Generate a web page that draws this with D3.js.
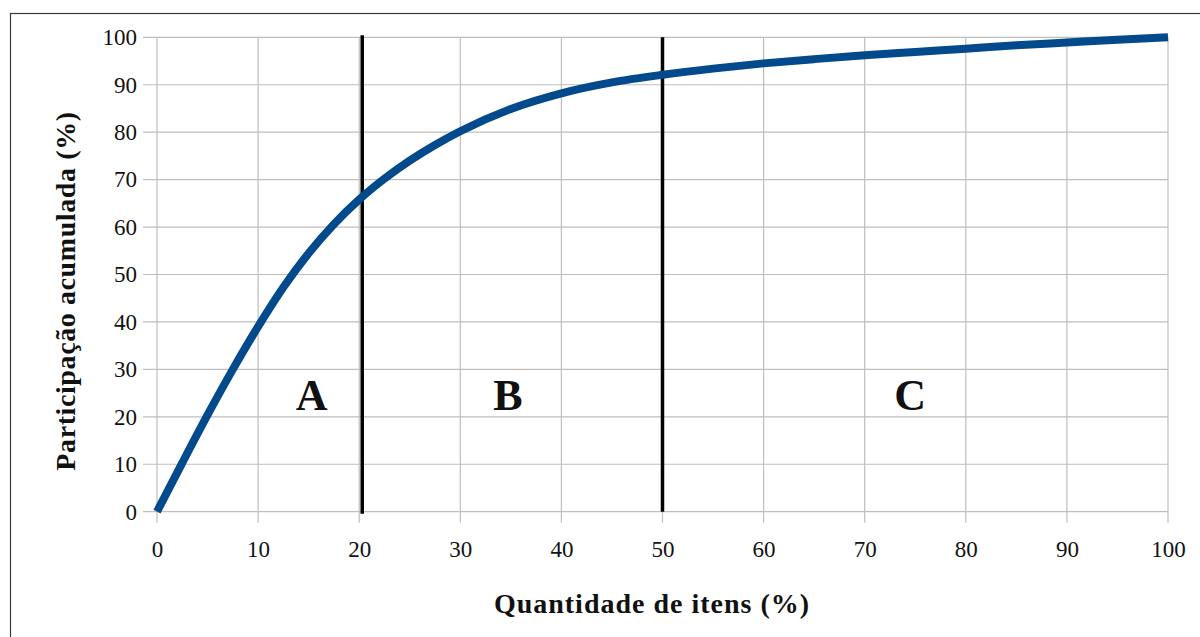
<!DOCTYPE html>
<html>
<head>
<meta charset="utf-8">
<script src="https://cdn.jsdelivr.net/npm/d3@7"></script>
<style>
  html, body { margin: 0; padding: 0; background: #fff; }
  svg { display: block; }
  text { font-family: "Liberation Serif", "Times New Roman", serif; fill: #111; }
</style>
</head>
<body>
<svg id="chart" width="1200" height="637"></svg>
<script>
// Curva ABC: participação acumulada vs. quantidade de itens
const itemsPct = [0, 2.5, 5, 7.5, 10, 12.5, 15, 17.5, 20, 22.5, 25, 27.5, 30, 35, 40, 45, 50, 55, 60, 65, 70, 75, 80, 85, 90, 95, 100];
const cumulativePct = [0, 10.3, 20.4, 30.0, 39.0, 47.3, 54.5, 60.6, 65.8, 70.2, 74.0, 77.3, 80.2, 84.9, 88.2, 90.5, 92.1, 93.4, 94.5, 95.4, 96.2, 96.9, 97.6, 98.3, 98.9, 99.5, 100];
const xTicks = [0, 10, 20, 30, 40, 50, 60, 70, 80, 90, 100];
const yTicks = [0, 10, 20, 30, 40, 50, 60, 70, 80, 90, 100];
const classBounds = [20.3, 50];
const classNames = ["A", "B", "C"];
const classLabelX = [15.3, 34.7, 74.5];
const classLabelY = 21.4;
const xTitle = "Quantidade de itens (%)";
const yTitle = "Participação acumulada (%)";

const svg = d3.select("#chart");
const plotLeft = 157, plotRight = 1168, plotTop = 37.3, plotBottom = 511.7;

const x = d3.scaleLinear().domain([0, 100]).range([plotLeft, plotRight]);
const y = d3.scaleLinear().domain([0, 100]).range([plotBottom, plotTop]);

// outer frame
svg.append("rect")
  .attr("x", 10.5).attr("y", 13.5)
  .attr("width", 1300).attr("height", 700)
  .attr("fill", "none").attr("stroke", "#3a3a3a").attr("stroke-width", 1.2);

// grid
const grid = svg.append("g").attr("stroke", "#bebebe").attr("stroke-width", 1.2);
grid.selectAll("line.v").data(xTicks).join("line")
  .attr("x1", d => x(d)).attr("x2", d => x(d))
  .attr("y1", y(100)).attr("y2", y(0) + 11);
grid.selectAll("line.h").data(yTicks).join("line")
  .attr("x1", x(0) - 14).attr("x2", x(100))
  .attr("y1", d => y(d)).attr("y2", d => y(d));

// axes (labels only; ticks drawn with grid)
const xAxis = svg.append("g")
  .attr("transform", `translate(0,${plotBottom})`)
  .call(d3.axisBottom(x).tickValues(xTicks).tickSize(0).tickPadding(29));
xAxis.select(".domain").remove();
xAxis.selectAll("text").attr("font-size", 23).attr("fill", "#111")
  .style("font-family", '"Liberation Serif", serif');

const yAxis = svg.append("g")
  .attr("transform", `translate(${plotLeft},0)`)
  .call(d3.axisLeft(y).tickValues(yTicks).tickSize(0).tickPadding(20));
yAxis.select(".domain").remove();
yAxis.selectAll("text").attr("font-size", 23).attr("fill", "#111")
  .style("font-family", '"Liberation Serif", serif');

// class boundaries
svg.append("g").selectAll("line").data(classBounds).join("line")
  .attr("x1", d => x(d)).attr("x2", d => x(d))
  .attr("y1", (d, i) => i === 0 ? y(100) - 2 : y(100))
  .attr("y2", (d, i) => i === 0 ? y(0) + 2 : y(0))
  .attr("stroke", "#000").attr("stroke-width", 3.5);

// cumulative curve
const pts = itemsPct.map((v, i) => [v, cumulativePct[i]]);
svg.append("path")
  .datum(pts)
  .attr("fill", "none")
  .attr("stroke", "#034a8d")
  .attr("stroke-width", 8)
  .attr("stroke-linecap", "butt")
  .attr("stroke-linejoin", "round")
  .attr("d", d3.line().x(d => x(d[0])).y(d => y(d[1])).curve(d3.curveMonotoneX));

// class labels
svg.append("g").selectAll("text").data(classNames).join("text")
  .attr("x", (d, i) => x(classLabelX[i]))
  .attr("y", y(classLabelY))
  .attr("text-anchor", "middle")
  .attr("font-size", 44)
  .attr("font-weight", "bold")
  .text(d => d);

// axis titles
svg.append("text")
  .attr("x", 652).attr("y", 613)
  .attr("text-anchor", "middle")
  .attr("font-size", 28).attr("font-weight", "bold")
  .attr("letter-spacing", 1)
  .text(xTitle);

svg.append("text")
  .attr("transform", "translate(75,291) rotate(-90)")
  .attr("text-anchor", "middle")
  .attr("font-size", 28).attr("font-weight", "bold")
  .attr("letter-spacing", 0.6)
  .text(yTitle);
</script>
</body>
</html>
